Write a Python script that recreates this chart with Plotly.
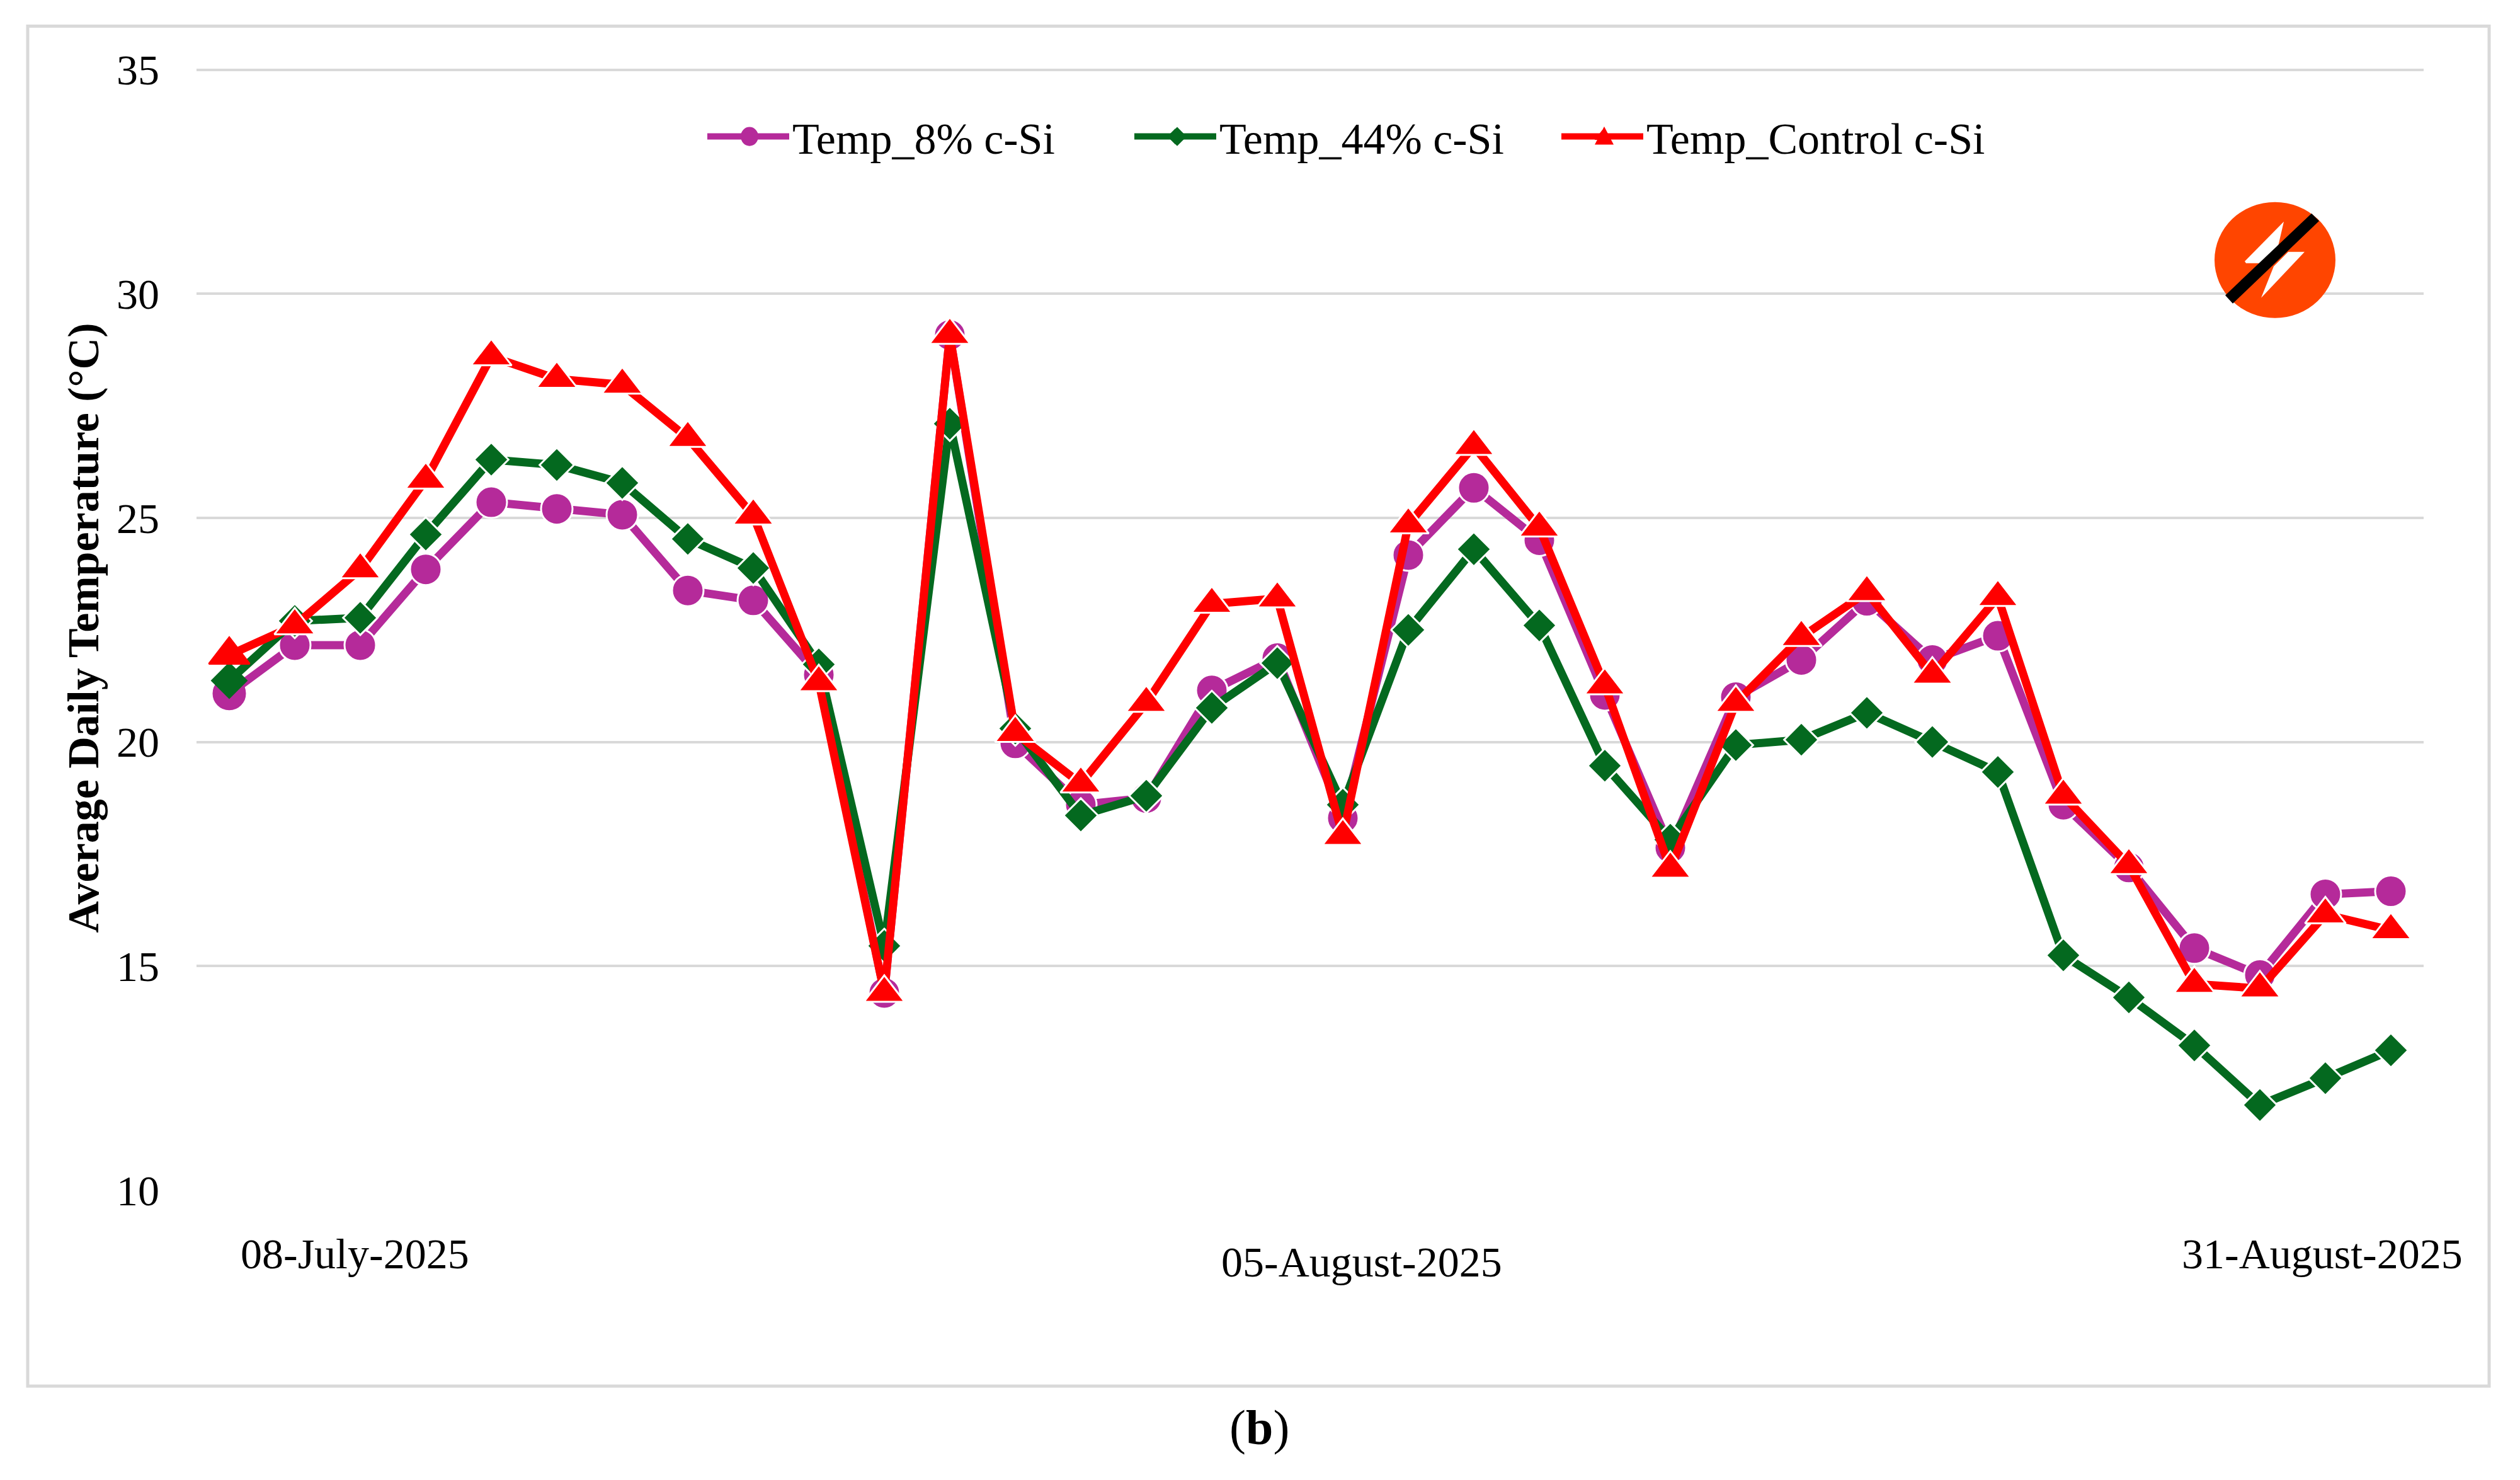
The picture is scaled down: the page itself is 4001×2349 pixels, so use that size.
import plotly.graph_objects as go

W, H = 4001, 2349
Y_TOP = 35.05
L, R, T, B = 312, 3848, 107.4, 1889

day_index = list(range(34))
temp_8 = [21.08, 22.16, 22.16, 23.85, 25.35, 25.2, 25.07, 23.38, 23.16, 21.5, 14.4, 29.08,
          19.97, 18.6, 18.75, 21.15, 21.87, 18.3, 24.17, 25.67, 24.5, 21.05, 17.64, 21.0,
          21.83, 23.15, 21.83, 22.37, 18.6, 17.2, 15.4, 14.8, 16.6, 16.67]
temp_44 = [21.37, 22.7, 22.77, 24.63, 26.3, 26.18, 25.78, 24.53, 23.88, 21.73, 15.45, 27.1,
           20.3, 18.36, 18.8, 20.76, 21.76, 18.6, 22.5, 24.3, 22.6, 19.47, 17.82, 19.93,
           20.05, 20.65, 20.0, 19.33, 15.24, 14.3, 13.23, 11.9, 12.5, 13.12]
temp_control = [21.94, 22.6, 23.85, 25.85, 28.6, 28.1, 27.97, 26.78, 25.05, 21.33, 14.4, 29.08,
                20.2, 19.07, 20.87, 23.08, 23.2, 17.9, 24.85, 26.6, 24.78, 21.26, 17.17, 20.87,
                22.34, 23.34, 21.5, 23.23, 18.8, 17.25, 14.6, 14.5, 16.15, 15.8]
y_ticks = [10, 15, 20, 25, 30, 35]
date_labels = ["08-July-2025", "05-August-2025", "31-August-2025"]

FONT = "Liberation Serif"
PURPLE, GREEN, RED = "#B52A9A", "#04691F", "#FF0000"


def px(x):
    return (x - L) / (R - L)


def py(y):
    return (B - y) / (B - T)


def path(points):
    return "M" + " L".join(f"{px(x):.5f},{py(y):.5f}" for x, y in points) + " Z"


def solid(points, color):
    return dict(type="path", xref="paper", yref="paper", line=dict(width=0), fillcolor=color,
                layer="above", path=path(points))


fig = go.Figure()
series = [
    ("Temp_8% c-Si", temp_8, PURPLE, "circle", 50),
    ("Temp_44% c-Si", temp_44, GREEN, "diamond", 42),
    ("Temp_Control c-Si", temp_control, RED, "triangle-up", 56),
]
for name, vals, col, sym, size in series:
    # legend glyph takes the first outline colour, plotted points keep the white rim
    rim = [col] + ["white"] * (len(vals) - 1)
    fig.add_trace(go.Scatter(
        x=day_index, y=vals, name=name, mode="lines+markers",
        line=dict(color=col, width=13),
        marker=dict(symbol=sym, size=size, color=col, line=dict(color=rim, width=3)),
    ))

LEGEND_Y = 217
LEG_P, LEG_G, LEG_C = 1190, 1869, 2547
shapes = [
    dict(type="rect", xref="paper", yref="paper", x0=px(44), x1=px(3952), y0=py(42), y1=py(2200),
         line=dict(color="#D9D9D9", width=5), fillcolor="rgba(0,0,0,0)", layer="below"),
    dict(type="circle", xref="paper", yref="paper", x0=px(3516), x1=px(3708), y0=py(321), y1=py(505),
         line=dict(width=0), fillcolor="#FF4500", layer="above"),
    solid([(3626, 352), (3564, 415), (3566, 418), (3590, 418), (3617, 391)], "white"),
    solid([(3659, 400), (3633, 400), (3610, 423), (3590, 473)], "white"),
    solid([(3533, 469), (3670, 339), (3682, 351), (3545, 482)], "black"),
    # larger legend glyphs behind the legend's own capped-size markers
    dict(type="circle", xref="paper", yref="paper", x0=px(LEG_P - 14), x1=px(LEG_P + 14),
         y0=py(LEGEND_Y - 15), y1=py(LEGEND_Y + 15), line=dict(width=0), fillcolor=PURPLE, layer="above"),
    solid([(LEG_G, LEGEND_Y - 15), (LEG_G + 15, LEGEND_Y), (LEG_G, LEGEND_Y + 15), (LEG_G - 15, LEGEND_Y)], GREEN),
    solid([(LEG_C, LEGEND_Y - 16), (LEG_C + 15, LEGEND_Y + 13), (LEG_C - 15, LEGEND_Y + 13)], RED),
]

annotations = [
    dict(text=date_labels[0], xref="paper", yref="paper", x=px(563), y=py(1990), showarrow=False,
         xanchor="center", yanchor="middle", font=dict(family=FONT, size=68, color="black")),
    dict(text=date_labels[1], xref="paper", yref="paper", x=px(2162), y=py(2003), showarrow=False,
         xanchor="center", yanchor="middle", font=dict(family=FONT, size=68, color="black")),
    dict(text=date_labels[2], xref="paper", yref="paper", x=px(3687), y=py(1990), showarrow=False,
         xanchor="center", yanchor="middle", font=dict(family=FONT, size=68, color="black")),
    dict(text="(<b>b</b>)", xref="paper", yref="paper", x=px(1999), y=py(2265), showarrow=False,
         xanchor="center", yanchor="middle", font=dict(family=FONT, size=78, color="black")),
    dict(text="<b>Average Daily Temperature (°C)</b>", xref="paper", yref="paper", x=px(133), y=py(997),
         showarrow=False, textangle=-90, xanchor="center", yanchor="middle",
         font=dict(family=FONT, size=70, color="black")),
]

fig.update_layout(
    width=W, height=H, autosize=False,
    margin=dict(l=L, r=W - R, t=T, b=H - B, pad=0),
    paper_bgcolor="white", plot_bgcolor="white",
    font=dict(family=FONT, color="black"),
    shapes=shapes, annotations=annotations,
    legend=dict(
        orientation="h", x=px(1118), y=py(LEGEND_Y), xanchor="left", yanchor="middle",
        font=dict(family=FONT, size=70, color="black"),
        itemwidth=130, entrywidth=533, entrywidthmode="pixels",
        bgcolor="rgba(0,0,0,0)", borderwidth=0,
    ),
    xaxis=dict(range=[-0.5, 33.5], showgrid=False, zeroline=False, showline=False,
               showticklabels=False, ticks=""),
    yaxis=dict(range=[10, Y_TOP], tickvals=y_ticks, showgrid=True, gridcolor="#D9D9D9", gridwidth=4,
               zeroline=False, showline=False, ticks="",
               ticklabelstandoff=58, tickfont=dict(family=FONT, size=68, color="black")),
)

fig.write_html("out.html", post_script="document.body.style.margin='0';", config={"displayModeBar": False})
